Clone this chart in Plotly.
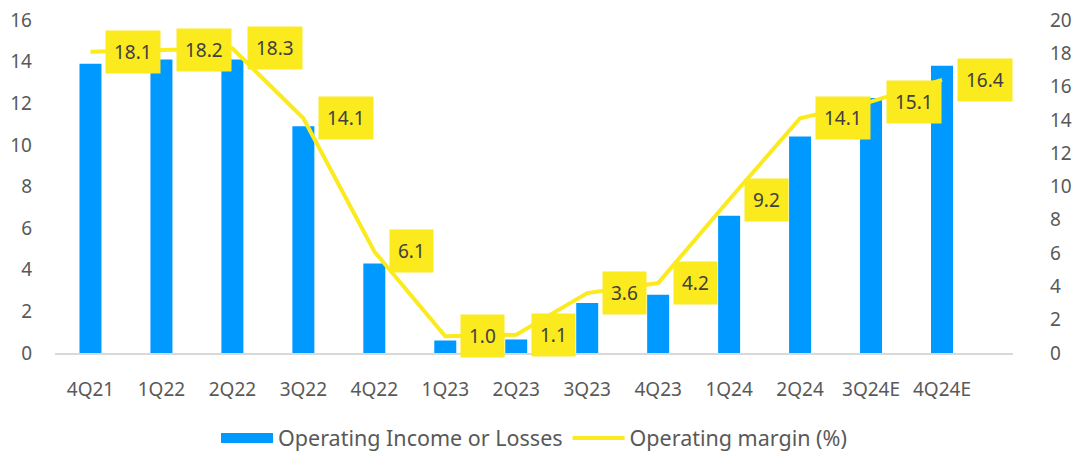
import plotly.graph_objects as go

categories = ["4Q21", "1Q22", "2Q22", "3Q22", "4Q22", "1Q23", "2Q23", "3Q23", "4Q23", "1Q24", "2Q24", "3Q24E", "4Q24E"]
operating_income = [13.9, 14.1, 14.1, 10.9, 4.3, 0.6, 0.65, 2.4, 2.8, 6.6, 10.4, 12.25, 13.8]
operating_margin = [18.1, 18.2, 18.3, 14.1, 6.1, 1.0, 1.1, 3.6, 4.2, 9.2, 14.1, 15.1, 16.4]
left_ticks = [0, 2, 4, 6, 8, 10, 12, 14, 16]
right_ticks = [0, 2, 4, 6, 8, 10, 12, 14, 16, 18, 20]

BLUE = "#0099FF"
YELLOW = "#FAEA1E"
FONT = "Noto Sans"

fig = go.Figure()
fig.add_trace(go.Bar(
    x=categories, y=operating_income, name="Operating Income or Losses",
    marker=dict(color=BLUE, line=dict(width=0)), yaxis="y", showlegend=False,
))
fig.add_trace(go.Scatter(
    x=categories, y=operating_margin, name="Operating margin (%)",
    mode="lines", line=dict(color=YELLOW, width=4), yaxis="y2", showlegend=False,
))
# legend entries
fig.add_trace(go.Scatter(
    x=[None], y=[None], name="Operating Income or Losses", mode="lines",
    line=dict(color=BLUE, width=14), yaxis="y",
))
fig.add_trace(go.Scatter(
    x=[None], y=[None], name="Operating margin (%)", mode="lines",
    line=dict(color=YELLOW, width=4), yaxis="y2",
))

for c, v in zip(categories, operating_margin):
    fig.add_annotation(
        x=c, y=v, yref="y2", text=f"{v:.1f}", showarrow=False,
        xanchor="left", yanchor="middle", xshift=15,
        bgcolor=YELLOW, borderpad=8,
        font=dict(family=FONT, size=19, color="#404040"),
    )

fig.update_layout(
    width=1078, height=453,
    margin=dict(l=55, r=65, t=20, b=100, autoexpand=False),
    plot_bgcolor="white", paper_bgcolor="white",
    font=dict(family=FONT, size=19, color="#595959"),
    bargap=0.69,
    showlegend=True,
    legend=dict(orientation="h", x=0.5, xanchor="center", y=-0.255, yanchor="middle",
                font=dict(size=21.5, color="#595959"), itemwidth=52, tracegroupgap=0),
    xaxis=dict(showgrid=False, showline=True, linecolor="#D9D9D9", linewidth=2,
               ticks="", ticklabelstandoff=18, tickfont=dict(size=19), automargin=False),
    yaxis=dict(range=[0, 16], tickvals=left_ticks, showgrid=False, zeroline=False,
               showline=False, ticks="", tickfont=dict(size=19), ticklabelstandoff=22,
               automargin=False),
    yaxis2=dict(range=[0, 20], tickvals=right_ticks, overlaying="y", side="right",
                showgrid=False, zeroline=False, showline=False, ticks="",
                tickfont=dict(size=19), ticklabelstandoff=36, automargin=False),
)

fig.write_html("out.html", config={"displayModeBar": False},
               post_script="document.body.style.margin='0';")
